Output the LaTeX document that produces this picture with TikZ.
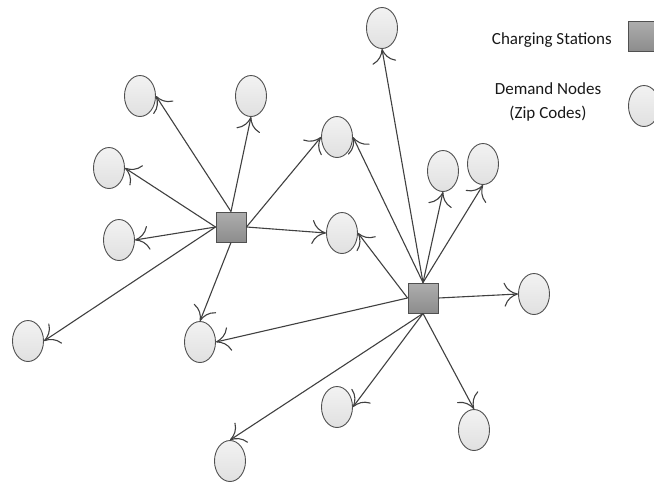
\documentclass[tikz,border=0pt]{standalone}
\usepackage{fontspec}
\setmainfont{Carlito}
\usetikzlibrary{shapes.geometric,arrows.meta}
\definecolor{edgec}{HTML}{404040}
\definecolor{bordc}{HTML}{505050}
\tikzset{
  dem/.style={ellipse, draw=bordc, line width=0.9pt, top color=white!95!black, bottom color=white!88!black, minimum width=31pt, minimum height=41pt, inner sep=0pt},
  sta/.style={rectangle, draw=bordc, line width=0.9pt, top color=black!32, bottom color=black!45, minimum width=30pt, minimum height=30pt, inner sep=0pt},
  link/.style={draw=edgec, line width=1.1pt, -{Computer Modern Rightarrow[length=14pt,width=24pt,line width=1.1pt]}},
  lab/.style={font=\fontsize{17}{24}\selectfont, text=black!90, inner sep=0pt}
}
\begin{document}
\begin{tikzpicture}[x=1pt,y=-1pt]
\useasboundingbox (0,0) rectangle (654,483);
\clip (0,0) rectangle (654,483);
% stations
\node[sta] (A) at (231,227) {};
\node[sta] (B) at (423,298) {};
% demand nodes
\node[dem] (e1) at (140,96) {};
\node[dem] (e2) at (251,96) {};
\node[dem] (e3) at (109,168) {};
\node[dem] (e4) at (119,240) {};
\node[dem] (e5) at (337,137) {};
\node[dem] (e6) at (342,233) {};
\node[dem] (e7) at (382,28) {};
\node[dem] (e8) at (443,171) {};
\node[dem] (e9) at (483,164) {};
\node[dem] (e10) at (534,294) {};
\node[dem] (e11) at (200,342) {};
\node[dem] (e12) at (28,341) {};
\node[dem] (e13) at (337,407) {};
\node[dem] (e14) at (474,430) {};
\node[dem] (e15) at (230,461) {};
% edges from A
\draw[link] (A.north) -- (e1.east);
\draw[link] (A.north) -- (e2.south);
\draw[link] (A.west) -- (e3.east);
\draw[link] (A.west) -- (e4.east);
\draw[link] (A.west) -- (e12.east);
\draw[link] (A.east) -- (e5.west);
\draw[link] (A.east) -- (e6.west);
\draw[link] (A.south) -- (e11.north);
% edges from B
\draw[link] (B.north) -- (e5.east);
\draw[link] (B.north) -- (e7.south);
\draw[link] (B.north) -- (e8.south);
\draw[link] (B.north) -- (e9.south);
\draw[link] (B.west) -- (e6.east);
\draw[link] (B.west) -- (e11.east);
\draw[link] (B.east) -- (e10.west);
\draw[link] (B.south) -- (e13.east);
\draw[link] (B.south) -- (e14.north);
\draw[link] (B.south) -- (e15.north);
% legend
\node[sta] (ls) at (643,36) {};
\node[dem] (le) at (644,106) {};
\node[lab, anchor=east] (lt1) at (612,40) {Charging Stations};
\node[lab, align=center] (lt2) at (548,102) {Demand Nodes\\(Zip Codes)};
\end{tikzpicture}
\end{document}
